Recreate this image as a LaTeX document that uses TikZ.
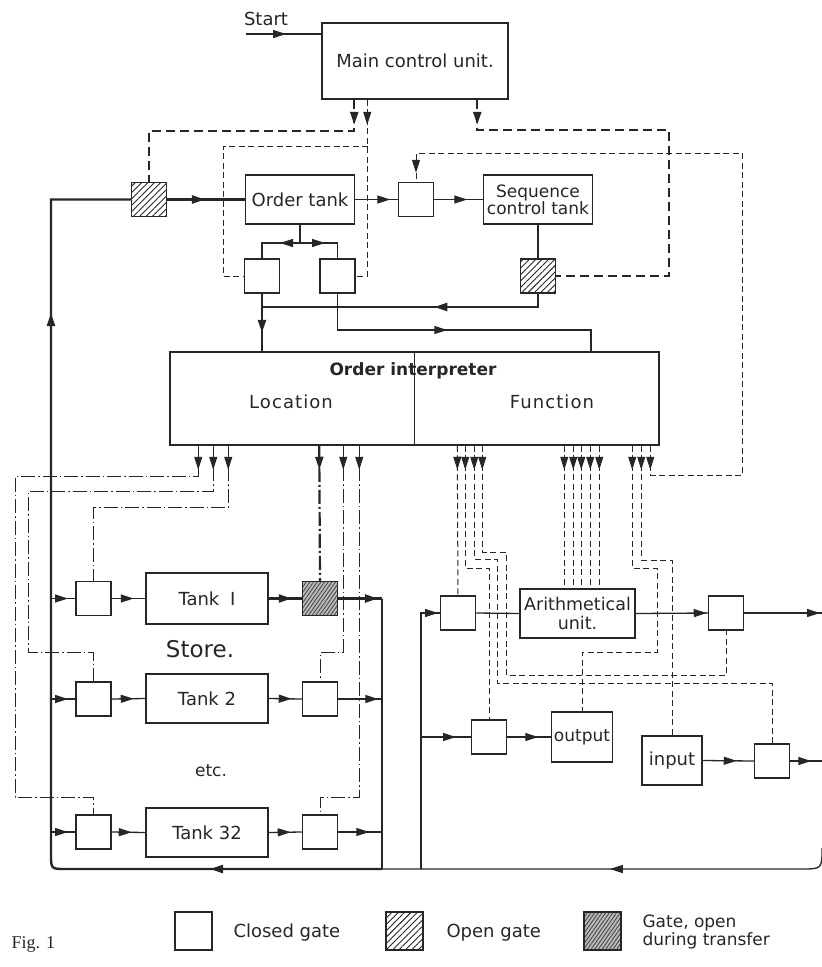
\documentclass[tikz,border=0pt]{standalone}
\usepackage{fontspec}
\setmainfont{DejaVu Sans}
\newfontfamily\figfont{Liberation Serif}
\usetikzlibrary{arrows.meta,decorations.markings,patterns.meta,calc}
\begin{document}
\begin{tikzpicture}[x=1pt,y=-1pt,black!85,
  every node/.style={font=\fontsize{18}{20}\selectfont,text=black!85},
  box/.style={draw,line width=1.5pt,inner sep=0pt,align=center},
  gate/.style={draw,line width=1.5pt,minimum width=35pt,minimum height=34pt,inner sep=0pt},
  opengate/.style={gate,pattern={Lines[angle=45,distance=4.5pt,line width=0.9pt]},pattern color=black!85},
  trgate/.style={gate,preaction={fill=gray!55},pattern={Lines[angle=55,distance=3pt,line width=0.8pt]},pattern color=black!75},
  ln/.style={line width=1.3pt},
  thk/.style={line width=2.4pt},
  hd/.style={line width=2.4pt,dash pattern=on 9pt off 5pt},
  td/.style={line width=1pt,dash pattern=on 6pt off 3.5pt},
  dd/.style={line width=1pt,dash pattern=on 14pt off 3pt on 1.5pt off 3pt},
  tdd/.style={line width=2.2pt,dash pattern=on 14pt off 3pt on 2pt off 3pt},
  ar/.style={postaction={decorate,decoration={markings,mark=at position #1 with {\arrow{Triangle[length=13pt,width=8pt]}}}}},
  lsp/.style={font={\fontsize{18}{20}\selectfont\addfontfeature{LetterSpace=6}}}
  ]
\useasboundingbox (0,0) rectangle (822,967);

% ---------- top ----------
\node[box,minimum width=186pt,minimum height=76pt] (mcu) at (415,61) {Main control unit.};
\node (start) at (266,19) {Start};
\coordinate (s0) at (246,34);
\draw[ln,ar=40pt] (s0) -- (s0 -| mcu.west);

\node[opengate] (og1) at (149,199.5) {};
\node[box,minimum width=109pt,minimum height=49pt] (ot) at (300,199.5) {Order tank};
\node[gate] (gA) at (262,276) {};
\node[gate] (gB) at (337.5,276) {};
\node[gate] (gC) at (416,199.5) {};
\node[box,minimum width=109pt,minimum height=49pt,font=\fontsize{17}{17}\selectfont] (sct) at (538,199.5) {Sequence\\control tank};
\node[opengate] (og2) at (538,276) {};

\draw[hd,ar=25pt] ($(mcu.south west)+(33,0)$) -- ++(0,31) -| (og1.north);
\draw[td,ar=25pt] ($(mcu.south west)+(46,0)$) |- (gB.east);
\coordinate (j1) at (368,146);
\draw[td] (j1) -| (223,276) -- (gA.west);
\draw[hd,ar=25pt] ($(mcu.south west)+(156,0)$) |- (669,130) |- (og2.east);

\draw[thk,ar=38pt] (og1.east) -- (ot.west);
\draw[ln,ar=35pt] (ot.east) -- (gC.west);
\draw[ln,ar=33pt] (gC.east) -- (sct.west);
\draw[thk] (sct.south) -- (og2.north);
\coordinate (sp) at (300,243);
\draw[ln] (ot.south) -- (sp);
\draw[ln,ar=20pt] (sp) -| (gA.north);
\draw[ln,ar=25pt] (sp) -| (gB.north);

% ---------- order interpreter ----------
\node[box,minimum width=489pt,minimum height=93pt] (oi) at (414.5,398.5) {};
\draw[ln] (oi.north) -- (oi.south);
\node[font=\bfseries\fontsize{17}{20}\selectfont] (oit) at (413,371) {Order interpreter};
\node[lsp] (loc) at (291,402) {Location};
\node[lsp] (fun) at (552,402) {Function};

\draw[thk,ar=117pt,ar=315pt] (og2.south) |- (262,307) -- (oi.north -| gA.south);
\draw[ln] (gA.south) -- (262,307);
\draw[ln,ar=146pt] (gB.south) |- (591,330) -- (591,352);

\draw[td,ar=24pt,ar=-9pt] ($(oi.south west)+(481,0)$) |- (742,475) |- (416,153) -- (gC.north);

% ---------- store ----------
\node[gate] (T1L) at (93.5,598.5) {};
\node[box,minimum width=122pt,minimum height=51pt] (tk1) at (207,598.5) {Tank\hspace{0.6em}I};
\node[trgate] (T1R) at (320,598.5) {};
\node[gate] (T2L) at (93.5,699) {};
\node[box,minimum width=122pt,minimum height=49pt] (tk2) at (207,698.5) {Tank 2};
\node[gate] (T2R) at (320,699) {};
\node[gate] (T32L) at (93.5,832) {};
\node[box,minimum width=122pt,minimum height=49pt] (tk32) at (207,832.5) {Tank 32};
\node[gate] (T32R) at (320,832) {};
\node[font=\fontsize{23}{25}\selectfont] (store) at (200,649) {Store.};
\node[font=\fontsize{17}{19}\selectfont] (etc) at (211,771) {etc.};

\coordinate (lx) at (51,0);
\coordinate (rx) at (382,0);
\draw[ln,ar=17pt] (T1L.west -| lx) -- (T1L.west);
\draw[ln,ar=22pt] (T1L.east) -- (tk1.west);
\draw[thk,ar=23pt] (tk1.east) -- (T1R.west);
\draw[thk,ar=40pt] (T1R.east) -- (T1R.east -| rx);
\draw[ln,ar=17pt] (T2L.west -| lx) -- (T2L.west);
\draw[ln,ar=22pt] (T2L.east) -- (tk2.west);
\draw[ln,ar=23pt] (tk2.east) -- (T2R.west);
\draw[ln,ar=40pt] (T2R.east) -- (T2R.east -| rx);
\draw[ln,ar=17pt] (T32L.west -| lx) -- (T32L.west);
\draw[ln,ar=20pt] (T32L.east) -- (tk32.west);
\draw[ln,ar=22pt] (tk32.east) -- (T32R.west);
\draw[ln,ar=31pt] (T32R.east) -- (T32R.east -| rx);

\draw[thk] (T1R.east -| rx) -- (382,869);
\draw[thk,ar=172pt,ar=884pt] (382,869) -- (66,869) .. controls (51,869) .. (51,854) |- (og1.west);
\draw[ln,ar=229pt] (822,848) .. controls (822,869) .. (801,869) -- (382,869);

% location lines
\draw[dd,ar=24pt] ($(oi.south west)+(29,0)$) |- (15,476) |- (93.5,797) -- (T32L.north);
\draw[dd,ar=24pt] ($(oi.south west)+(44,0)$) |- (28,491) |- (93.5,652) -- (T2L.north);
\draw[dd,ar=24pt] ($(oi.south west)+(59,0)$) |- (93.5,507) -- (T1L.north);
\draw[tdd,ar=24pt] ($(oi.south west)+(150,0)$) -- (T1R.north);
\draw[dd,ar=24pt] ($(oi.south west)+(174,0)$) |- (320,652) -- (T2R.north);
\draw[dd,ar=24pt] ($(oi.south west)+(190,0)$) |- (320,797) -- (T32R.north);

% ---------- arithmetic and i/o ----------
\node[gate] (AL) at (458,613) {};
\node[box,minimum width=115pt,minimum height=49pt,font=\fontsize{17.5}{19}\selectfont] (AU) at (577.5,613.5) {Arithmetical\\unit.};
\node[gate] (AR) at (726,613) {};
\node[gate] (OL) at (489,737) {};
\node[box,minimum width=61pt,minimum height=50pt,font=\fontsize{17}{19}\selectfont] (out) at (582,737) {output};
\node[box,minimum width=60pt,minimum height=49pt] (inp) at (672,760.5) {input};
\node[gate] (IR) at (772,761) {};

\draw[ln,ar=273pt] (421,869) |- (AL.west);
\draw[ln] (AL.east) -- (AU.west);
\draw[ln,ar=71pt] (AU.east) -- (AR.west);
\draw[ln,ar=-2pt] (AR.east) -- (822,613);
\draw[ln,ar=35pt] (421,737) -- (OL.west);
\draw[ln,ar=31pt] (OL.east) -- (out.west);
\draw[ln,ar=34pt] (inp.east) -- (IR.west);
\draw[ln,ar=21pt] (IR.east) -- (822,761);

% function lines
\draw[td,ar=24pt] ($(oi.south west)+(288,0)$) -- (AL.north);
\draw[td,ar=24pt] ($(oi.south west)+(296,0)$) |- (489,568) -- (OL.north);
\draw[td,ar=24pt] ($(oi.south west)+(305,0)$) |- (497,559) |- (772,683) -- (IR.north);
\draw[td,ar=24pt] ($(oi.south west)+(313,0)$) |- (506,552) |- (726,675) -- (AR.south);
\foreach \dx in {395,404,412,421,430}
  \draw[td,ar=24pt] ($(oi.south west)+(\dx,0)$) -- ($(oi.south west)+(\dx,144)$);
\draw[td,ar=24pt] ($(oi.south west)+(463,0)$) |- (657,568) |- (582,652) -- (out.north);
\draw[td,ar=24pt] ($(oi.south west)+(472,0)$) |- (672,560) -- (inp.north);

% ---------- legend ----------
\node[gate,minimum width=37pt,minimum height=38pt] (lg1) at (193.5,931) {};
\node[anchor=west] (lt1) at (230,933) {Closed gate};
\node[opengate,minimum width=37pt,minimum height=38pt] (lg2) at (404.5,931) {};
\node[anchor=west] (lt2) at (443,933) {Open gate};
\node[trgate,minimum width=37pt,minimum height=38pt] (lg3) at (602.5,931) {};
\node[anchor=west,align=left,font=\fontsize{17}{18}\selectfont] (lt3) at (639,932) {Gate, open\\during transfer};
\node[anchor=west,font=\figfont\fontsize{18}{20}\selectfont] (fig) at (8,944) {Fig. 1};
\end{tikzpicture}
\end{document}
